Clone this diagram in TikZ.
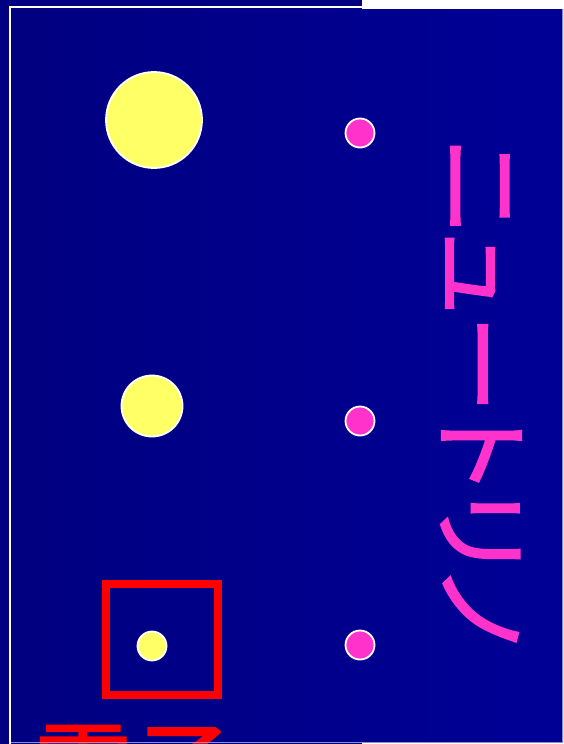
\documentclass[tikz,border=0pt]{standalone}
\usepackage{fontspec}
\newfontfamily\jpfont[RawFeature=+palt,FakeBold=1.6]{Noto Sans CJK JP}
\definecolor{navy}{HTML}{000080}
\definecolor{bgright}{HTML}{000096}
\definecolor{sun}{HTML}{FFFF66}
\definecolor{pinkdot}{HTML}{FF33CC}
\definecolor{edgeline}{HTML}{8C8CD0}
\tikzset{
  yellowball/.style={circle,fill=sun,draw=white,line width=1.8pt,inner sep=0pt},
  pinkball/.style={circle,fill=pinkdot,draw=white,line width=1.8pt,inner sep=0pt,minimum size=29pt},
  redbox/.style={draw=red,line width=8pt,inner sep=0pt},
}
\begin{document}
\begin{tikzpicture}[x=1pt,y=-1pt]
\useasboundingbox (0,0) rectangle (563,744);
\fill[white] (0,0) rectangle (563,744);
\fill[navy] (0,0) rectangle (362,744);
\draw[white,line width=1.6pt] (9.7,760) -- (9.7,7) -- (600,7);
\shade[left color=navy,right color=bgright] (11,9) rectangle (563,742);
% particles
\node[yellowball,minimum size=96pt] (p1) at (154,120) {};
\node[yellowball,minimum size=61pt] (p2) at (152,406) {};
\node[yellowball,minimum size=29pt] (p3) at (152,646) {};
\node[pinkball] (n1) at (360,133) {};
\node[pinkball] (n2) at (360,421) {};
\node[pinkball] (n3) at (360,645) {};
\node[redbox,minimum width=112pt,minimum height=111pt] (box) at (162,639.5) {};
% texts
\node[rotate=-90,text=pinkdot,font=\jpfont\fontsize{99}{99}\selectfont,inner sep=0pt] (nu) at (481,394) {ニュートリノ};
\node[anchor=base west,text=red,font=\jpfont\fontsize{100}{100}\selectfont,inner sep=0pt] (el) at (33,805) {電子};
% frame edges
\draw[edgeline,line width=1pt] (11,742) -- (562.5,742) -- (562.5,9);
\end{tikzpicture}
\end{document}
